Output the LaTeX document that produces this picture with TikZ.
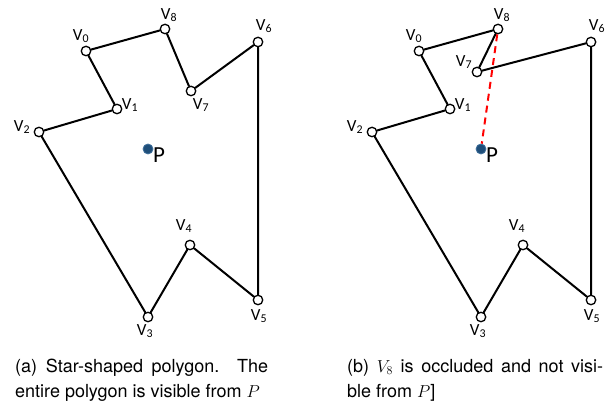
\documentclass[tikz,border=0pt]{standalone}
\usepackage{fontspec}
\usepackage{xcolor}
\usepackage{tikz}
\usetikzlibrary{positioning, calc}
\newfontfamily\lblfont{Carlito}
\newfontfamily\capfont{TeX Gyre Heros}
\definecolor{DotBlue}{HTML}{1F4E79}
\definecolor{DotEdge}{HTML}{41719C}

\begin{document}
\begin{tikzpicture}[
    x=1pt, y=-1pt,
    vert/.style={circle, draw=black, fill=white, line width=1.3pt, minimum size=9.5pt, inner sep=0pt},
    edge/.style={black, line width=2pt, line cap=round},
    ray/.style={red, line width=2pt, dash pattern=on 7pt off 5pt},
    pdot/.style={circle, fill=DotBlue, draw=DotEdge, line width=0.8pt, minimum size=10pt, inner sep=0pt},
    vlabel/.style={font=\lblfont\fontsize{17}{20}\selectfont, inner sep=0pt},
    plabel/.style={font=\lblfont\fontsize{23}{26}\selectfont, inner sep=0pt},
    caption/.style={font=\capfont\fontsize{18}{22}\selectfont, inner sep=0pt, anchor=base west}
]
\useasboundingbox (0,0) rectangle (613,403);

% --- (a) star-shaped polygon ---
\node[vert] (a0) at (86,51) {};
\node[vert] (a1) at (117,109) {};
\node[vert] (a2) at (39,132) {};
\node[vert] (a3) at (148,317) {};
\node[vert] (a4) at (190,245) {};
\node[vert] (a5) at (258,300) {};
\node[vert] (a6) at (258,42) {};
\node[vert] (a7) at (191,91) {};
\node[vert] (a8) at (165,29) {};
\node[pdot] (aP) at (148,149) {};
\draw[edge] (a0) -- (a1) -- (a2) -- (a3) -- (a4) -- (a5) -- (a6) -- (a7) -- (a8) -- (a0);

\node[vlabel] (la0) at ([shift={(-5,-15)}]a0) {V\textsubscript{0}};
\node[vlabel] (la1) at ([shift={(13,-4)}]a1) {V\textsubscript{1}};
\node[vlabel] (la2) at ([shift={(-17,-5)}]a2) {V\textsubscript{2}};
\node[vlabel] (la3) at ([shift={(-3,14)}]a3) {V\textsubscript{3}};
\node[vlabel] (la4) at ([shift={(-6,-19)}]a4) {V\textsubscript{4}};
\node[vlabel] (la5) at ([shift={(1,16)}]a5) {V\textsubscript{5}};
\node[vlabel] (la6) at ([shift={(6,-16)}]a6) {V\textsubscript{6}};
\node[vlabel] (la7) at ([shift={(10,14)}]a7) {V\textsubscript{7}};
\node[vlabel] (la8) at ([shift={(4,-14)}]a8) {V\textsubscript{8}};
\node[plabel] (laP) at ([shift={(11,6)}]aP) {P};

\node[caption] (capa1) at (15,372) {\makebox[253pt][s]{(a) Star-shaped polygon. The}};
\node[caption] (capa2) at (15,397) {entire polygon is visible from $P$};

% --- (b) V8 hidden behind the V6-V7 edge ---
\begin{scope}[xshift=333pt]
\node[vert] (b0) at (86,51) {};
\node[vert] (b1) at (117,109) {};
\node[vert] (b2) at (39,132) {};
\node[vert] (b3) at (148,317) {};
\node[vert] (b4) at (190,245) {};
\node[vert] (b5) at (258,300) {};
\node[vert] (b6) at (258,42) {};
\node[vert] (b7) at (144,72) {};
\node[vert] (b8) at (165,29) {};
\node[pdot] (bP) at (148,149) {};
\draw[edge] (b0) -- (b1) -- (b2) -- (b3) -- (b4) -- (b5) -- (b6) -- (b7) -- (b8) -- (b0);
\draw[ray] (b8) -- (bP);

\node[vlabel] (lb0) at ([shift={(-5,-15)}]b0) {V\textsubscript{0}};
\node[vlabel] (lb1) at ([shift={(13,-4)}]b1) {V\textsubscript{1}};
\node[vlabel] (lb2) at ([shift={(-17,-5)}]b2) {V\textsubscript{2}};
\node[vlabel] (lb3) at ([shift={(-3,14)}]b3) {V\textsubscript{3}};
\node[vlabel] (lb4) at ([shift={(-6,-19)}]b4) {V\textsubscript{4}};
\node[vlabel] (lb5) at ([shift={(1,16)}]b5) {V\textsubscript{5}};
\node[vlabel] (lb6) at ([shift={(6,-16)}]b6) {V\textsubscript{6}};
\node[vlabel] (lb7) at ([shift={(-13,-10)}]b7) {V\textsubscript{7}};
\node[vlabel] (lb8) at ([shift={(4,-14)}]b8) {V\textsubscript{8}};
\node[plabel] (lbP) at ([shift={(11,6)}]bP) {P};

\node[caption] (capb1) at (14,372) {\makebox[256pt][s]{(b) $V_8$ is occluded and not visi-}};
\node[caption] (capb2) at (14,397) {ble from $P$]};
\end{scope}
\end{tikzpicture}
\end{document}
